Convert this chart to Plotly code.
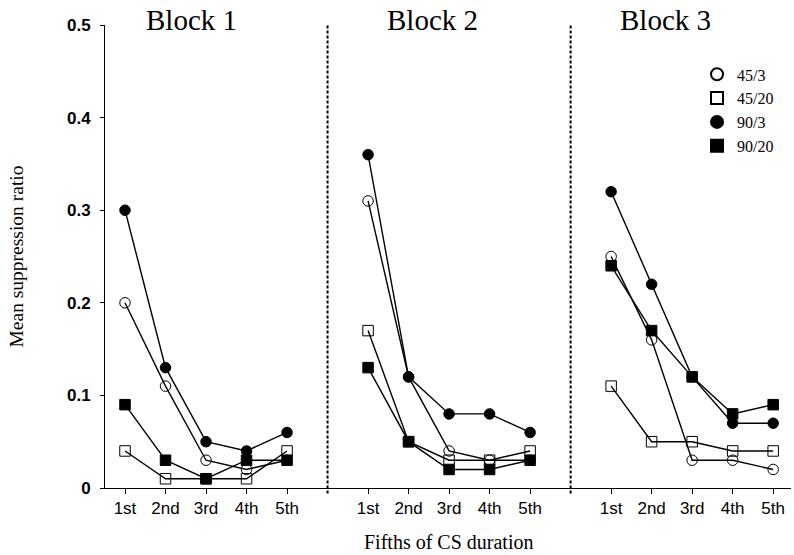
import plotly.graph_objects as go

# Fifths of the CS, repeated in each of the three blocks
fifths = ["1st", "2nd", "3rd", "4th", "5th"]
blocks = ["Block 1", "Block 2", "Block 3"]

# Mean suppression ratio per group, Block 1 | Block 2 | Block 3 (5 fifths each)
g45_3 = [0.20, 0.11, 0.03, 0.02, 0.03,
         0.31, 0.12, 0.04, 0.03, 0.03,
         0.25, 0.16, 0.03, 0.03, 0.02]
g45_20 = [0.04, 0.01, 0.01, 0.01, 0.04,
          0.17, 0.05, 0.03, 0.03, 0.04,
          0.11, 0.05, 0.05, 0.04, 0.04]
g90_3 = [0.30, 0.13, 0.05, 0.04, 0.06,
         0.36, 0.12, 0.08, 0.08, 0.06,
         0.32, 0.22, 0.12, 0.07, 0.07]
g90_20 = [0.09, 0.03, 0.01, 0.03, 0.03,
          0.13, 0.05, 0.02, 0.02, 0.03,
          0.24, 0.17, 0.12, 0.08, 0.09]

groups = [
    ("45/3", g45_3, "circle-open"),
    ("45/20", g45_20, "square-open"),
    ("90/3", g90_3, "circle"),
    ("90/20", g90_20, "square"),
]

SERIF = "Liberation Serif, Times New Roman, serif"
SANS = "Liberation Sans Narrow, Arial Narrow, Liberation Sans, Arial, sans-serif"
SANS_BOLD = "Liberation Sans, Arial, sans-serif"

n_f = len(fifths)
step = n_f + 1  # one empty slot between blocks for the divider


def xpos(b, j):
    return b * step + j + 1


fig = go.Figure()

for name, vals, sym in groups:
    xs, ys = [], []
    for b in range(len(blocks)):
        for j in range(n_f):
            xs.append(xpos(b, j))
            ys.append(vals[b * n_f + j])
        xs.append(None)
        ys.append(None)
    fig.add_trace(go.Scatter(
        x=xs, y=ys, mode="lines+markers", showlegend=False,
        line=dict(color="black", width=1.4),
        marker=dict(symbol=sym, size=10.5, color="black",
                    line=dict(color="black", width=1)),
        connectgaps=False,
    ))

# marker-only entries for the legend
for name, vals, sym in groups:
    fig.add_trace(go.Scatter(
        x=[None], y=[None], mode="markers", name=name,
        marker=dict(symbol=sym, size=11, color="black",
                    line=dict(color="black", width=1)),
    ))

# dotted dividers between blocks
for b in range(1, len(blocks)):
    xd = b * step
    fig.add_shape(type="line", xref="x", yref="paper", x0=xd, x1=xd,
                  y0=-0.012, y1=1.0,
                  line=dict(color="black", width=2, dash="3px,2px"))

tickvals, ticktext = [], []
for b in range(len(blocks)):
    for j in range(n_f):
        tickvals.append(xpos(b, j))
        ticktext.append(fifths[j])

# block titles
title_shift = [2.65, 2.6, 2.35]
for b, title in enumerate(blocks):
    fig.add_annotation(x=b * step + title_shift[b],
                       y=1.011, xref="x", yref="paper",
                       text=title, showarrow=False,
                       font=dict(family=SERIF, size=29, color="black"),
                       xanchor="center", yanchor="middle")

# axis titles
fig.add_annotation(x=0.5, y=-0.117, xref="paper", yref="paper",
                   text="Fifths of CS duration", showarrow=False,
                   font=dict(family=SERIF, size=20, color="black"),
                   xanchor="center", yanchor="middle")
fig.add_annotation(x=0, y=0.5, xref="paper", yref="paper", xshift=-89,
                   text="Mean suppression ratio", showarrow=False, textangle=-90,
                   font=dict(family=SERIF, size=19.5, color="black"),
                   xanchor="center", yanchor="middle")

fig.update_layout(
    width=794, height=555,
    margin=dict(l=105, r=3, t=25, b=67),
    paper_bgcolor="white", plot_bgcolor="white",
    showlegend=True,
    legend=dict(x=0.863, y=0.93, xanchor="left", yanchor="top",
                font=dict(family=SERIF, size=16, color="black"),
                bgcolor="rgba(0,0,0,0)", borderwidth=0,
                itemsizing="constant", tracegroupgap=0),
    xaxis=dict(range=[0.506, 17.44], tickvals=tickvals, ticktext=ticktext,
               showgrid=False, zeroline=False, showline=True,
               linecolor="black", linewidth=1, ticks="outside",
               ticklen=5, tickcolor="black", tickwidth=1,
               tickfont=dict(family=SANS, size=17, color="black")),
    yaxis=dict(range=[0, 0.5], tickvals=[0, 0.1, 0.2, 0.3, 0.4, 0.5],
               ticktext=["0", "0.1", "0.2", "0.3", "0.4", "0.5"],
               showgrid=False, zeroline=False, showline=True,
               linecolor="black", linewidth=1, ticks="outside",
               ticklen=4, tickcolor="black", tickwidth=1,
               ticklabelstandoff=6,
               tickfont=dict(family=SANS_BOLD, size=17, color="black",
                             weight="bold")),
)

fig.write_html("out.html")
